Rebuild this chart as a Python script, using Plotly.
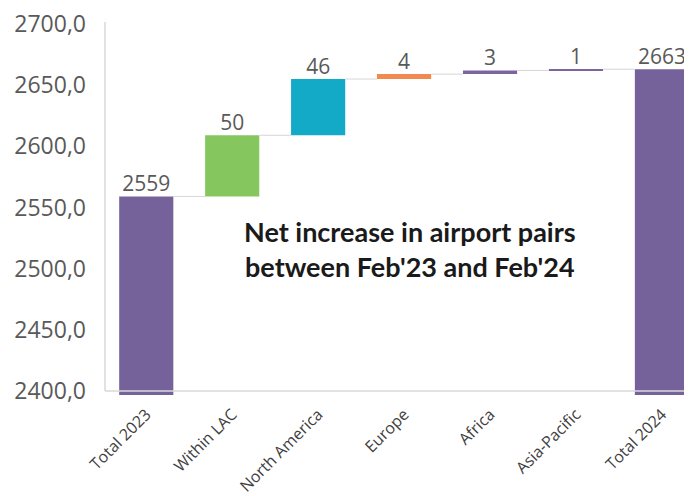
import plotly.graph_objects as go

categories = ["Total 2023", "Within LAC", "North America", "Europe", "Africa", "Asia-Pacific", "Total 2024"]
values = [2559, 50, 46, 4, 3, 1, 2663]
measures = ["total", "relative", "relative", "relative", "relative", "relative", "total"]
colors = ["#76629A", "#86C65F", "#12AAC6", "#F28A4F", "#7B64A0", "#7B64A0", "#76629A"]
ytick_vals = [2400, 2450, 2500, 2550, 2600, 2650, 2700]
ytick_text = ["2400,0", "2450,0", "2500,0", "2550,0", "2600,0", "2650,0", "2700,0"]
note = "Net increase in airport pairs<br>between Feb'23 and Feb'24"

# compute bases and tops from data
bases, tops = [], []
running = 0
for v, m in zip(values, measures):
    if m == "total":
        bases.append(0)
        tops.append(v)
        running = v
    else:
        bases.append(running)
        running += v
        tops.append(running)
heights = [t - b for t, b in zip(tops, bases)]
xs = list(range(len(categories)))
bw = 0.63

fig = go.Figure()
fig.add_trace(go.Bar(x=xs, y=heights, base=bases, width=bw,
                     marker=dict(color=colors, line=dict(width=0)),
                     hoverinfo="skip", showlegend=False))

# connectors
cx, cy = [], []
for i in range(len(xs) - 1):
    cx += [xs[i] + bw / 2, xs[i + 1] - bw / 2, None]
    cy += [tops[i], tops[i], None]
fig.add_trace(go.Scatter(x=cx, y=cy, mode="lines", line=dict(color="#D6D6D6", width=1),
                         hoverinfo="skip", showlegend=False))

# labels
fig.add_trace(go.Scatter(x=xs, y=tops, mode="text", text=[str(v) for v in values],
                         textposition="top center", cliponaxis=False,
                         textfont=dict(family="Open Sans", size=21, color="#595959"),
                         hoverinfo="skip", showlegend=False))

fig.add_annotation(x=3.07, y=2516, xref="x", yref="y", text=note, showarrow=False,
                   font=dict(family="Lato", size=27, color="#1A1A1A", weight="bold"),
                   align="center")

# axis lines
fig.add_shape(type="line", xref="paper", yref="y", x0=0, x1=1, y0=2400, y1=2400,
              line=dict(color="#D9D9D9", width=1.5))
fig.add_shape(type="line", xref="paper", yref="y", x0=0, x1=0, y0=2400, y1=2701.6,
              line=dict(color="#D9D9D9", width=1.5))

fig.update_layout(
    width=684, height=488,
    margin=dict(l=97, r=0, t=14, b=101, autoexpand=False),
    plot_bgcolor="white", paper_bgcolor="white",
    font=dict(family="Open Sans", color="#595959"),
    xaxis=dict(range=[-0.48, 6.35], tickvals=xs, ticktext=categories, tickangle=-45,
               showgrid=False, zeroline=False, showline=False, ticks="",
               automargin=False, ticklabelstandoff=6, ticklabeloverflow="allow",
               tickfont=dict(size=16, color="#404040")),
    yaxis=dict(range=[2396.7, 2701.6], tickvals=ytick_vals, ticktext=ytick_text,
               showgrid=False, zeroline=False, showline=False, ticks="",
               automargin=False, ticklabelstandoff=18, ticklabeloverflow="allow",
               tickfont=dict(size=23, color="#595959")),
)
fig.write_html("out.html")
